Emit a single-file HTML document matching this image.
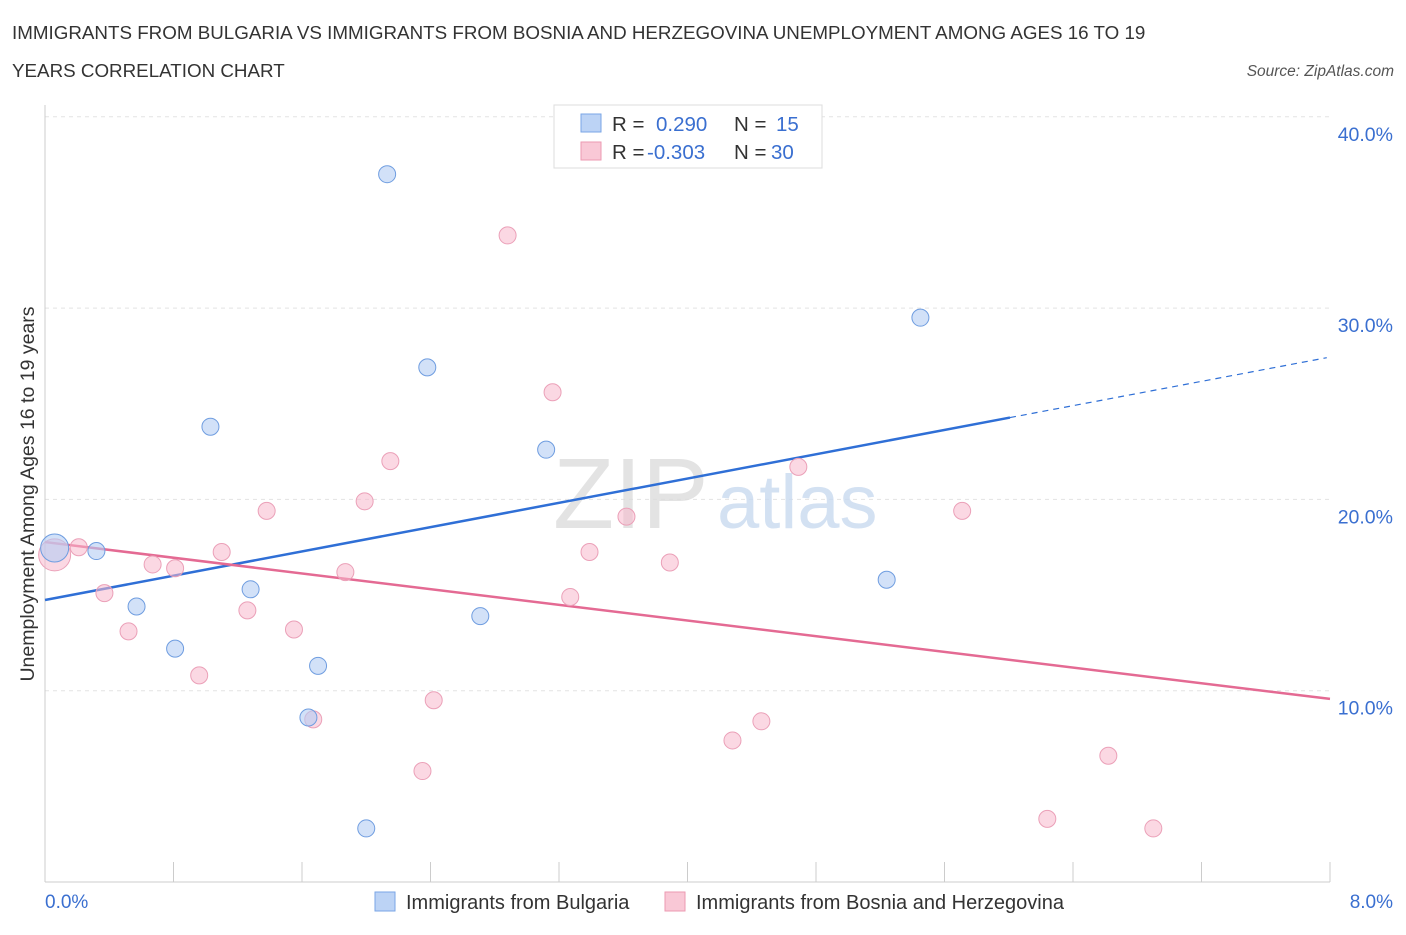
<!DOCTYPE html>
<html><head><meta charset="utf-8"><style>
body{margin:0;background:#fff;font-family:"Liberation Sans",sans-serif;}
svg text{font-family:"Liberation Sans",sans-serif;}
</style></head><body>
<svg id="chart" width="1406" height="930" viewBox="0 0 1406 930" xmlns="http://www.w3.org/2000/svg">
<text x="12" y="39" font-size="18.8" fill="#333">IMMIGRANTS FROM BULGARIA VS IMMIGRANTS FROM BOSNIA AND HERZEGOVINA UNEMPLOYMENT AMONG AGES 16 TO 19</text>
<text x="12" y="77" font-size="18.8" fill="#333">YEARS CORRELATION CHART</text>
<text x="1394" y="76" font-size="15.5" fill="#555" font-style="italic" text-anchor="end">Source: ZipAtlas.com</text>
<g id="grid"></g>
<text x="553" y="528" font-size="100" fill="#ddd" font-family="Liberation Serif" opacity="0.8">ZIP</text>
<text x="717" y="528" font-size="76" fill="#c9daf0" opacity="0.8">atlas</text>
<line x1="45" y1="105" x2="45" y2="882" stroke="#ccc"/>
<line x1="45" y1="882" x2="1330" y2="882" stroke="#ccc"/>
<g id="xticks"></g>
<g id="trends"></g>
<g id="points"></g>
<text transform="translate(34,494) rotate(-90)" font-size="19.5" fill="#333" text-anchor="middle">Unemployment Among Ages 16 to 19 years</text>
<text x="45" y="908" font-size="19" fill="#3a6fd0">0.0%</text>
<text x="1393" y="908" font-size="19" fill="#3a6fd0" text-anchor="end">8.0%</text>
<g>
<rect x="554" y="105" width="268" height="63" fill="#fff" stroke="#ddd"/>
<rect x="581" y="114" width="20" height="18" fill="#bcd3f5" stroke="#7aa6e6"/>
<rect x="581" y="142" width="20" height="18" fill="#f9c8d6" stroke="#ec9ab2"/>
<text x="612" y="131" font-size="20.5" fill="#333">R = </text><text x="656" y="131" font-size="20.5" fill="#3a6fd0">0.290</text>
<text x="734" y="131" font-size="20.5" fill="#333">N = </text><text x="776" y="131" font-size="20.5" fill="#3a6fd0">15</text>
<text x="612" y="159" font-size="20.5" fill="#333">R = </text><text x="647" y="159" font-size="20.5" fill="#3a6fd0">-0.303</text>
<text x="734" y="159" font-size="20.5" fill="#333">N = </text><text x="771" y="159" font-size="20.5" fill="#3a6fd0">30</text>
</g>
<g>
<rect x="375" y="892" width="20" height="19" fill="#bcd3f5" stroke="#7aa6e6"/>
<text x="406" y="909" font-size="20" fill="#333">Immigrants from Bulgaria</text>
<rect x="665" y="892" width="20" height="19" fill="#f9c8d6" stroke="#ec9ab2"/>
<text x="696" y="909" font-size="20" fill="#333">Immigrants from Bosnia and Herzegovina</text>
</g>
</svg>
<script>
const yTicks=[10,20,30,40];
const yTickLabels=["10.0%","20.0%","30.0%","40.0%"];
const xTicks=[0,0.8,1.6,2.4,3.2,4.0,4.8,5.6,6.4,7.2,8.0];
const blueX=[0.06,0.32,0.57,0.81,1.03,1.28,1.64,1.70,2.0,2.13,2.38,2.71,3.12,5.24,5.45];
const blueY=[17.46,17.3,14.4,12.2,23.8,15.3,8.6,11.3,2.8,37.0,26.9,13.9,22.6,15.8,29.5];
const pinkX=[0.06,0.21,0.37,0.52,0.67,0.81,0.96,1.10,1.26,1.38,1.55,1.67,1.87,1.99,2.15,2.35,2.42,2.88,3.16,3.27,3.39,3.62,3.89,4.28,4.46,4.69,5.71,6.24,6.62,6.90];
const pinkY=[17.1,17.5,15.1,13.1,16.6,16.4,10.8,17.25,14.2,19.4,13.2,8.5,16.2,19.9,22.0,5.8,9.5,33.8,25.6,14.9,17.25,19.1,16.7,7.4,8.4,21.7,19.4,3.3,6.6,2.8];
const blueTrend=[14.74,27.44];
const pinkTrend=[17.77,9.57];
const xs=v=>45+v/8*1285, ys=v=>882-v*19.13;
const NS="http://www.w3.org/2000/svg";
function mk(t,a,p){const e=document.createElementNS(NS,t);for(const k in a)e.setAttribute(k,a[k]);p.appendChild(e);return e;}
const grid=document.getElementById('grid');
yTicks.forEach((v,i)=>{
 const l=mk('line',{x1:45,x2:1330,y1:ys(v),y2:ys(v),stroke:'#e3e3e3','stroke-dasharray':'4,4'},grid);
 
 
 const t=mk('text',{x:1393,y:ys(v)+24,'font-size':19.5,fill:'#3a6fd0','text-anchor':'end'},grid);
 t.textContent=yTickLabels[i];
 
 
});
const xt=document.getElementById('xticks');
xTicks.forEach(v=>{
 const l=mk('line',{x1:xs(v),x2:xs(v),y1:862,y2:882,stroke:'#ccc'},xt);
 
 
});
const tr=document.getElementById('trends');
const bxEnd=(1010-45)/1285*8;
const bAt=x=>blueTrend[0]+(blueTrend[1]-blueTrend[0])*x/8;
let l1=mk('line',{x1:xs(0),y1:ys(bAt(0)),x2:xs(bxEnd),y2:ys(bAt(bxEnd)),stroke:'#2f6fd6','stroke-width':2.5},tr);


let l2=mk('line',{x1:xs(bxEnd),y1:ys(bAt(bxEnd)),x2:xs(7.98),y2:ys(bAt(7.98)),stroke:'#2f6fd6','stroke-width':1.2,'stroke-dasharray':'6,5'},tr);


let l3=mk('line',{x1:xs(0),y1:ys(pinkTrend[0]),x2:xs(8),y2:ys(pinkTrend[1]),stroke:'#e46a93','stroke-width':2.5},tr);


const pts=document.getElementById('points');
pinkX.forEach((x,i)=>{
 const c=mk('circle',{cx:xs(x),cy:ys(pinkY[i]),r:i==0?16:8.5,fill:'rgba(247,184,204,0.55)',stroke:'#eba0b8','stroke-width':1},pts);
 
 
});
blueX.forEach((x,i)=>{
 const c=mk('circle',{cx:xs(x),cy:ys(blueY[i]),r:i==0?14:8.5,fill:'rgba(180,205,243,0.6)',stroke:'#6f9de0','stroke-width':1},pts);
 
 
});
</script>
</body></html>
